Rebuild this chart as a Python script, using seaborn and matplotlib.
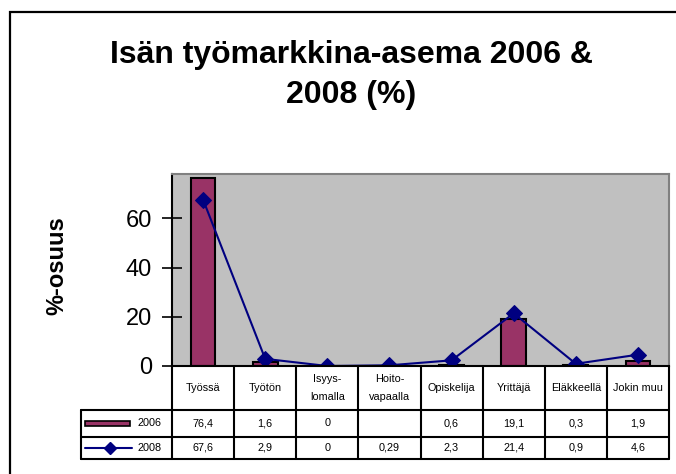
import numpy as np
import pandas as pd
import matplotlib
matplotlib.use("Agg")
import matplotlib.pyplot as plt
import matplotlib.transforms as mtransforms
from matplotlib.patches import Rectangle
from matplotlib.lines import Line2D
import seaborn as sns

# DATA
categories = ["Työssä", "Työtön", "Isyys-\nlomalla", "Hoito-\nvapaalla",
              "Opiskelija", "Yrittäjä", "Eläkkeellä", "Jokin muu"]
values_2006 = [76.4, 1.6, 0, np.nan, 0.6, 19.1, 0.3, 1.9]
values_2008 = [67.6, 2.9, 0, 0.29, 2.3, 21.4, 0.9, 4.6]
y_ticks = [0, 20, 40, 60]

BAR_COLOR = "#993366"
LINE_COLOR = "#000080"

sns.set_theme(style="white")
plt.rcParams["font.family"] = ["Liberation Sans", "DejaVu Sans"]
plt.rcParams["text.color"] = "black"
plt.rcParams["ytick.color"] = "black"
plt.rcParams["ytick.labelcolor"] = "black"

W, H = 676, 474
fig = plt.figure(figsize=(W / 100, H / 100), dpi=100)


def fx(px):
    return px / W


def fy(py):
    return 1 - py / H


# plot area
ax_left, ax_right, ax_top, ax_bottom = 172, 669, 174, 366
ax = fig.add_axes([fx(ax_left), fy(ax_bottom), fx(ax_right - ax_left), (ax_bottom - ax_top) / H])
ax.set_facecolor("#C0C0C0")

df = pd.DataFrame({"cat": range(len(categories)), "v2006": values_2006, "v2008": values_2008})

sns.barplot(data=df, x="cat", y="v2006", color=BAR_COLOR, width=0.4,
            edgecolor="black", linewidth=1.5, saturation=1, ax=ax, native_scale=True)
sns.lineplot(data=df, x="cat", y="v2008", color=LINE_COLOR, linewidth=1.5,
             marker="D", markersize=8, markeredgecolor=LINE_COLOR, ax=ax)

ax.set_xlim(-0.5, len(categories) - 0.5)
ax.set_ylim(0, 78)
ax.set_yticks(y_ticks)
ax.set_yticklabels([str(t) for t in y_ticks], fontsize=17, color="black")
ax.set_xticks([])
ax.set_xlabel("")
ax.set_ylabel("")
ax.tick_params(axis="y", direction="inout", length=15, width=1.2, color="black", pad=7, left=True)

for side in ["top", "right"]:
    ax.spines[side].set_color("#808080")
    ax.spines[side].set_linewidth(1.5)
for side in ["left", "bottom"]:
    ax.spines[side].set_color("black")
    ax.spines[side].set_linewidth(1.5)

# y label
fig.text(fx(57), fy(266), "%-osuus", rotation=90, fontsize=17, fontweight="bold",
         ha="center", va="center")

# title
fig.text(fx(351), fy(75), "Isän työmarkkina-asema 2006 &\n2008 (%)", fontsize=23,
         fontweight="bold", ha="center", va="center", linespacing=1.45)

# data table below the axis
trans = mtransforms.blended_transform_factory(ax.transData, fig.transFigure)
row_header_bottom, row1_bottom, row2_bottom = 410, 437, 459
legend_left = 81
lw = 1.5
n = len(categories)

# horizontal lines
for yb in [row_header_bottom, row1_bottom, row2_bottom]:
    fig.add_artist(Line2D([fx(legend_left), fx(ax_right)], [fy(yb), fy(yb)],
                          color="black", linewidth=lw))
# vertical lines between categories
for i in range(n + 1):
    fig.add_artist(Line2D([i - 0.5, i - 0.5], [fy(ax_bottom), fy(row2_bottom)],
                          color="black", linewidth=lw, transform=trans))
fig.add_artist(Line2D([fx(legend_left), fx(legend_left)],
                      [fy(row_header_bottom), fy(row2_bottom)], color="black", linewidth=lw))


def fmt(v):
    if np.isnan(v):
        return ""
    return f"{v:g}".replace(".", ",")


tsize = 7.8
for i, cat in enumerate(categories):
    fig.text(i, fy((ax_bottom + row_header_bottom) / 2), cat, transform=trans,
             ha="center", va="center", fontsize=tsize, linespacing=1.9)
    fig.text(i, fy((row_header_bottom + row1_bottom) / 2), fmt(values_2006[i]), transform=trans,
             ha="center", va="center", fontsize=tsize)
    fig.text(i, fy((row1_bottom + row2_bottom) / 2), fmt(values_2008[i]), transform=trans,
             ha="center", va="center", fontsize=tsize)

# legend keys in the table
y1 = (row_header_bottom + row1_bottom) / 2
y2 = (row1_bottom + row2_bottom) / 2
fig.add_artist(Rectangle((fx(85), fy(y1 + 2.5)), fx(45), 5 / H, facecolor=BAR_COLOR,
                         edgecolor="black", linewidth=1.2))
fig.text(fx(137), fy(y1), "2006", ha="left", va="center", fontsize=tsize)
fig.add_artist(Line2D([fx(85), fx(132)], [fy(y2), fy(y2)], color=LINE_COLOR, linewidth=1.5))
fig.add_artist(Line2D([fx(110)], [fy(y2)], color=LINE_COLOR, marker="D", markersize=6,
                      linestyle="none"))
fig.text(fx(137), fy(y2), "2008", ha="left", va="center", fontsize=tsize)

# outer chart frame
fig.add_artist(Rectangle((fx(10), -0.1), 1.2, fy(12) + 0.1, facecolor="none",
                         edgecolor="black", linewidth=1.6))

fig.savefig("out.png", dpi=100)
